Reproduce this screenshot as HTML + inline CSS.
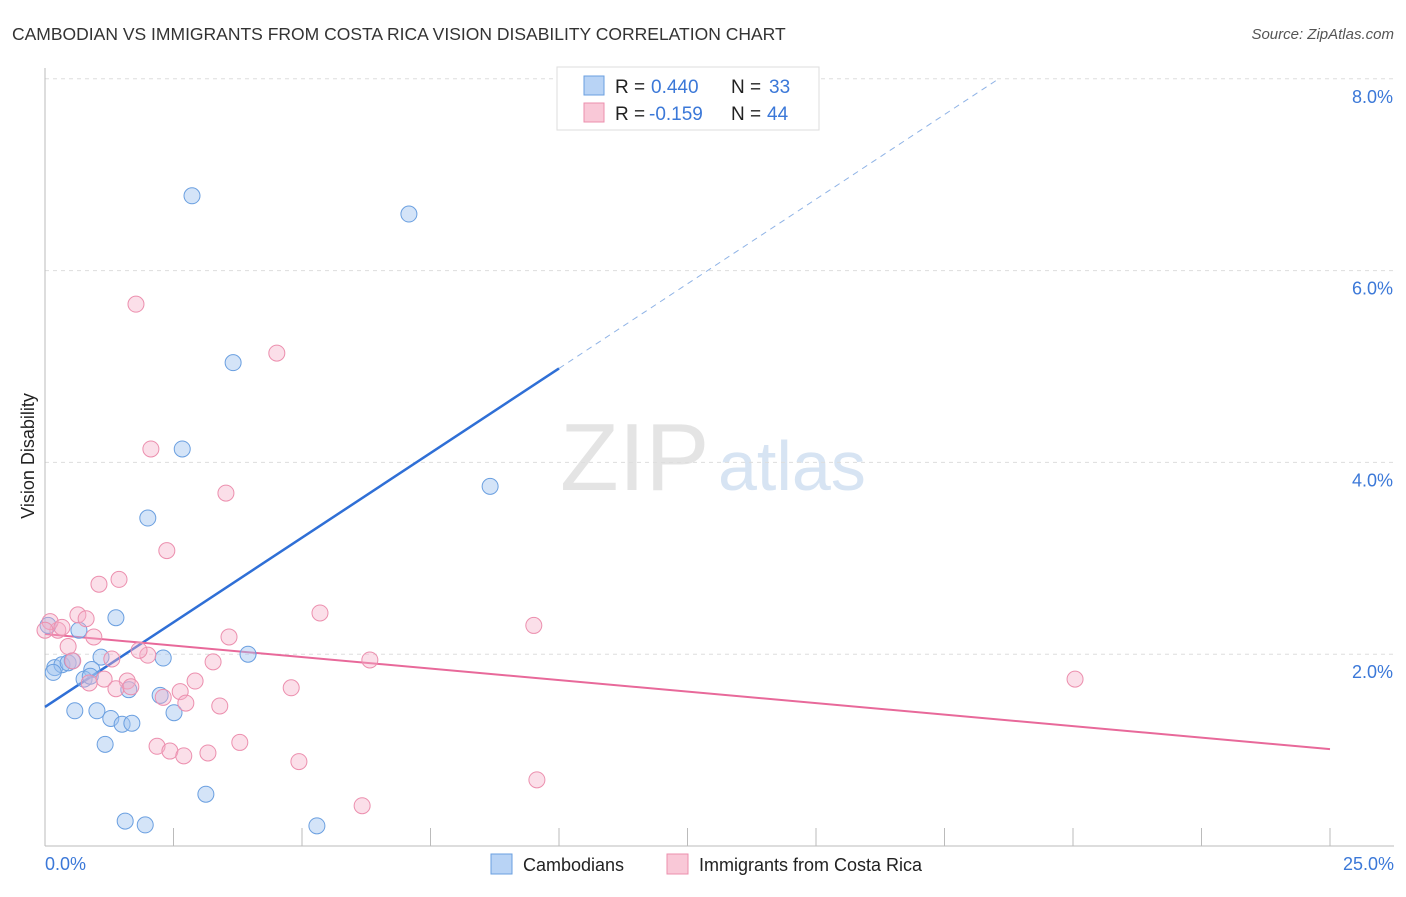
<!DOCTYPE html>
<html><head><meta charset="utf-8"><style>
body{margin:0;background:#fff;font-family:"Liberation Sans",sans-serif}
svg text{font-family:"Liberation Sans",sans-serif}
</style></head><body>
<svg id="chart" width="1406" height="892">
<text x="12" y="40" font-size="17.5" fill="#333">CAMBODIAN VS IMMIGRANTS FROM COSTA RICA VISION DISABILITY CORRELATION CHART</text>
<text x="1394" y="39" font-size="15" fill="#555" font-style="italic" text-anchor="end">Source: ZipAtlas.com</text>
<text x="560" y="490" font-size="96" fill="#e4e4e4" font-family="Liberation Serif">ZIP</text>
<text x="718" y="490" font-size="70" fill="#d7e4f3">atlas</text>
<text transform="translate(34,456) rotate(-90)" font-size="18" fill="#222" text-anchor="middle">Vision Disability</text>
<g id="grid"></g><g id="axes"></g><g id="lines"></g><g id="pts"></g>
<g>
<rect x="557" y="67" width="262" height="63" fill="#fff" stroke="#ddd"/>
<rect x="584" y="76" width="20" height="19" fill="#b8d3f5" stroke="#6a9fe0"/>
<text x="615" y="93" font-size="19" fill="#222">R =</text>
<text x="651" y="93" font-size="19" fill="#3b78d8">0.440</text>
<text x="731" y="93" font-size="19" fill="#222">N =</text>
<text x="769" y="93" font-size="19" fill="#3b78d8">33</text>
<rect x="584" y="103" width="20" height="19" fill="#f9c8d7" stroke="#ec8fae"/>
<text x="615" y="120" font-size="19" fill="#222">R =</text>
<text x="649" y="120" font-size="19" fill="#3b78d8">-0.159</text>
<text x="731" y="120" font-size="19" fill="#222">N =</text>
<text x="767" y="120" font-size="19" fill="#3b78d8">44</text>
</g>
<g>
<rect x="491" y="854" width="21" height="20" fill="#b8d3f5" stroke="#6a9fe0"/>
<text x="523" y="871" font-size="18" fill="#222">Cambodians</text>
<rect x="667" y="854" width="21" height="20" fill="#f9c8d7" stroke="#ec8fae"/>
<text x="699" y="871" font-size="18" fill="#222">Immigrants from Costa Rica</text>
</g>
</svg>
<script>
const xTicks=[0,2.5,5,7.5,10,12.5,15,17.5,20,22.5,25];
const yTicks=[2,4,6,8];
const blueX=[2.86,7.08,3.66,2.67,8.66,2.00,1.38,0.66,3.95,2.30,1.09,0.91,0.19,0.33,0.45,0.53,0.16,0.76,0.88,1.63,2.24,0.58,1.01,1.28,2.51,1.50,1.69,1.17,3.13,1.56,1.95,5.29,0.06];
const blueY=[6.78,6.59,5.04,4.14,3.75,3.42,2.38,2.25,2.00,1.96,1.97,1.84,1.86,1.89,1.91,1.93,1.81,1.74,1.77,1.63,1.57,1.41,1.41,1.33,1.39,1.27,1.28,1.06,0.54,0.26,0.22,0.21,2.30];
const pinkX=[1.77,4.51,2.06,3.52,2.37,1.44,1.05,5.35,9.51,0.64,0.80,0.25,0.10,0.33,0.95,0.45,3.58,2.00,1.83,3.27,1.30,6.32,0.54,20.04,4.79,2.92,1.15,0.86,1.60,2.63,1.38,1.67,2.30,2.74,3.40,3.79,2.18,2.43,2.70,3.17,4.94,9.57,6.17,0.0];
const pinkY=[5.65,5.14,4.14,3.68,3.08,2.78,2.73,2.43,2.30,2.41,2.37,2.25,2.34,2.28,2.18,2.08,2.18,1.99,2.04,1.92,1.95,1.94,1.93,1.74,1.65,1.72,1.74,1.70,1.72,1.61,1.64,1.66,1.55,1.49,1.46,1.08,1.04,0.99,0.94,0.97,0.88,0.69,0.42,2.25];
const blueTrend=[1.45,0.353];
const pinkTrend=[2.21,-0.048];
const NS='http://www.w3.org/2000/svg';
const X=v=>45+v*51.4, Y=v=>846-v*95.9;
function mk(tag,at,parent){const e=document.createElementNS(NS,tag);for(const k in at)e.setAttribute(k,at[k]);document.getElementById(parent).appendChild(e);return e;}
yTicks.forEach(t=>{
 const g=mk('line',{x1:45,x2:1394,y1:Y(t),y2:Y(t),stroke:'#ddd','stroke-dasharray':'4,4'},'grid');
 
 
 const l=mk('text',{x:1393,y:Y(t)+24,'font-size':18,fill:'#3b78d8','text-anchor':'end'},'grid');l.textContent=t.toFixed(1)+'%';
 
 
});
const ax=mk('line',{x1:45,x2:1394,y1:846,y2:846,stroke:'#bbb'},'axes');


const ay=mk('line',{x1:45,x2:45,y1:68,y2:846,stroke:'#bbb'},'axes');


xTicks.forEach(t=>{const e=mk('line',{x1:X(t),x2:X(t),y1:828,y2:846,stroke:'#bbb'},'axes');
 
 });
const l0=mk('text',{x:45,y:870,'font-size':18,fill:'#3b78d8'},'axes');l0.textContent='0.0%';


const l1=mk('text',{x:1394,y:870,'font-size':18,fill:'#3b78d8','text-anchor':'end'},'axes');l1.textContent='25.0%';


function pts(xs,ys,fill,stroke,name){xs.forEach((x,i)=>{const c=mk('circle',{cx:X(x),cy:Y(ys[i]),r:8,fill:fill,stroke:stroke,'stroke-width':1},'pts');
 
 });}
pts(blueX,blueY,'rgba(160,195,240,0.45)','#6a9fe0','cambodian-point');
pts(pinkX,pinkY,'rgba(245,175,200,0.4)','#ec8fae','costa-rica-point');
const b1=mk('line',{x1:X(0),y1:Y(blueTrend[0]),x2:X(10),y2:Y(blueTrend[0]+10*blueTrend[1]),stroke:'#2f6fd6','stroke-width':2.5},'lines');


const xe=(8-blueTrend[0])/blueTrend[1];
const b2=mk('line',{x1:X(10),y1:Y(blueTrend[0]+10*blueTrend[1]),x2:X(xe),y2:Y(8),stroke:'#8fb3e6','stroke-width':1,'stroke-dasharray':'6,5'},'lines');


const p1=mk('line',{x1:X(0),y1:Y(pinkTrend[0]),x2:X(25),y2:Y(pinkTrend[0]+25*pinkTrend[1]),stroke:'#e8699a','stroke-width':2},'lines');


</script>
</body></html>
